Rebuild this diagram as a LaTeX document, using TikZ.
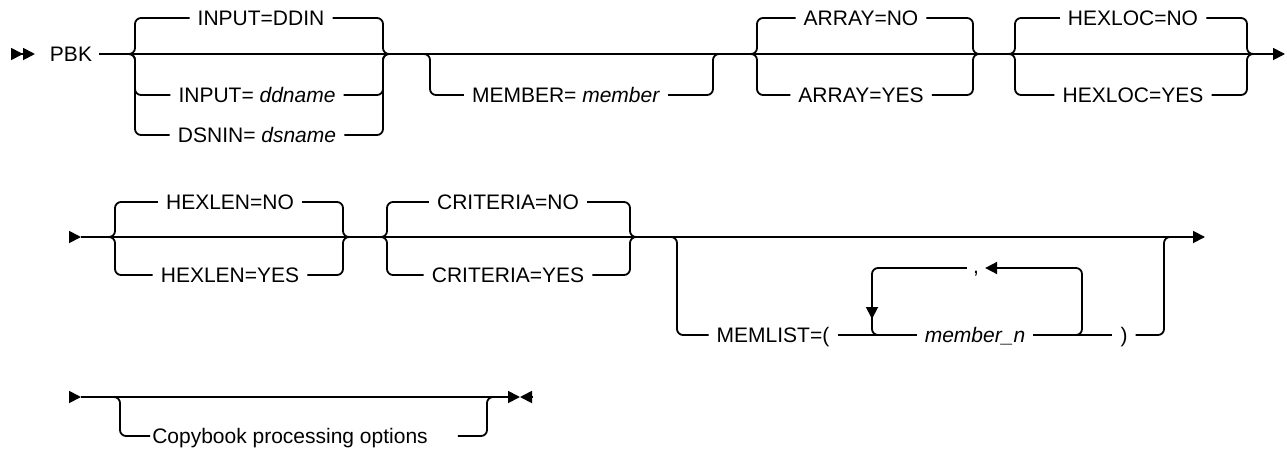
\documentclass[tikz,border=0pt]{standalone}
\usepackage{fontspec}
\setmainfont{Liberation Sans}
\usetikzlibrary{arrows.meta,calc}
\definecolor{RailClr}{rgb}{0,0,0}

\tikzset{
  >={Triangle[length=12pt,width=12pt]},
  rail/.style={line width=1.8pt,color=RailClr,rounded corners=6pt},
  opt/.style={inner xsep=8pt,inner ysep=0pt,text height=15pt,text depth=0pt,
    font=\fontsize{21}{25}\selectfont},
  sepmark/.style={opt,inner xsep=6pt,text height=11pt}
}

\begin{document}
\begin{tikzpicture}[x=1pt,y=-1pt]
\useasboundingbox (0,0) rectangle (1287,450);

\coordinate (r1s) at (11,54);
\coordinate (r1e) at (1285,54);
\coordinate (r2s) at (69,237);
\coordinate (r2e) at (1205,237);
\coordinate (r3s) at (69,397);
\coordinate (r3e) at (520,397);
\coordinate (r3b) at (532,397);

\node[opt,inner xsep=7pt] (pbk) at (71,54) {PBK};
\node[opt] (inddin) at (261,18) {INPUT=DDIN};
\node[opt] (inname) at (257,95) {INPUT= \textit{ddname}};
\node[opt] (dsnin) at (257,135) {DSNIN= \textit{dsname}};
\node[opt] (member) at (566,95) {MEMBER= \textit{member}};
\node[opt] (arrno) at (861,18) {ARRAY=NO};
\node[opt] (arryes) at (861,95) {ARRAY=YES};
\node[opt] (hlocno) at (1133,18) {HEXLOC=NO};
\node[opt] (hlocyes) at (1133,95) {HEXLOC=YES};

\node[opt] (hlenno) at (230,202) {HEXLEN=NO};
\node[opt] (hlenyes) at (230,275) {HEXLEN=YES};
\node[opt] (critno) at (508,202) {CRITERIA=NO};
\node[opt] (crityes) at (508,275) {CRITERIA=YES};
\node[opt] (memlist) at (773,335) {MEMLIST=(};
\node[opt] (membern) at (975,335) {\textit{member\_n}};
\node[opt] (paren) at (1124,335) {)};
\node[sepmark] (comma) at (976,268) {,};

\node[opt,inner xsep=2pt] (copybook) at (290,436) {Copybook processing options};

\draw[rail,->>] (r1s) -- ($(r1s)+(24,0)$);
\draw[rail,->] (pbk.east) -- (r1e);
\foreach \n/\x in {inddin/135,inname/135,dsnin/135,arrno/757,arryes/757,hlocno/1015,hlocyes/1015}
  \draw[rail] (\x-8,54) -- (\x,54) -- (\x,0 |- \n) -- (\n.west);
\foreach \n/\x in {inddin/383,inname/383,dsnin/383,arrno/973,arryes/973,hlocno/1247,hlocyes/1247}
  \draw[rail] (\n.east) -- (\x,0 |- \n) -- (\x,54) -- (\x+8,54);
\draw[rail] (422,54) -- (430,54) -- (430,0 |- member) -- (member.west);
\draw[rail] (member.east) -- (713,0 |- member) -- (713,54) -- (721,54);

\draw[rail,->] (r2s) -- ($(r2s)+(12,0)$);
\draw[rail,->] ($(r2s)+(12,0)$) -- (r2e);
\foreach \n/\x in {hlenno/115,hlenyes/115,critno/387,crityes/387}
  \draw[rail] (\x-8,237) -- (\x,237) -- (\x,0 |- \n) -- (\n.west);
\foreach \n/\x in {hlenno/343,hlenyes/343,critno/630,crityes/630}
  \draw[rail] (\n.east) -- (\x,0 |- \n) -- (\x,237) -- (\x+8,237);
\draw[rail] (669,237) -- (677,237) -- (677,0 |- memlist) -- (memlist.west);
\draw[rail] (memlist.east) -- (membern.west);
\draw[rail] (membern.east) -- (paren.west);
\draw[rail] (paren.east) -- (1164,0 |- paren) -- (1164,237) -- (1172,237);
\draw[rail,->] (1074,335) -- (1082,335) -- (1082,0 |- comma) -- (comma.east);
\draw[rail,->] (comma.west) -- (872,0 |- comma) -- (872,319);
\draw[rail] (872,314) -- (872,335) -- (880,335);

\draw[rail,->] (r3s) -- ($(r3s)+(12,0)$);
\draw[rail,->] ($(r3s)+(12,0)$) -- (r3e);
\draw[rail,->] (r3b) -- ($(r3b)+(-12,0)$);
\draw[rail] (112,397) -- (120,397) -- (120,0 |- copybook) -- (copybook.west);
\draw[rail] ([xshift=28pt]copybook.east) -- (487,0 |- copybook) -- (487,397) -- (495,397);

\end{tikzpicture}
\end{document}
